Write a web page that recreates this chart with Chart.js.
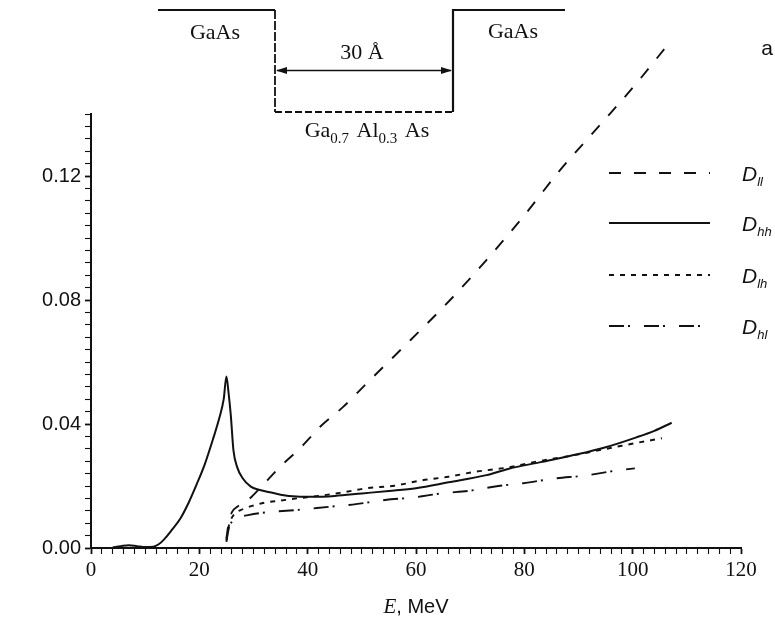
<!DOCTYPE html>
<html>
<head>
<meta charset="utf-8">
<script src="https://cdn.jsdelivr.net/npm/chart.js@4/dist/chart.umd.min.js"></script>
<style>
  body { margin: 0; background: #fff; }
  #wrap { width: 775px; height: 625px; position: relative; }
</style>
</head>
<body>
<div id="wrap"><canvas id="chart"></canvas></div>
<script>
// energy E (MeV) and values
const eHH = [4, 5.5, 7, 8.5, 10, 11.5, 12.5, 13.5, 15, 16.5, 18, 19.5, 21, 22.5, 23.7, 24.5, 25, 25.4, 25.8, 26.3, 27, 28, 29.5, 31, 33, 35, 38, 41, 45, 50, 55, 60, 66, 73, 77, 83, 90, 95, 100.7, 104, 107.2];
const dHH = [0.0002, 0.0006, 0.0009, 0.0006, 0.0003, 0.0004, 0.0012, 0.0028, 0.006, 0.0095, 0.0145, 0.0205, 0.027, 0.035, 0.042, 0.048, 0.0553, 0.050, 0.043, 0.0315, 0.026, 0.0225, 0.0198, 0.0188, 0.018, 0.0172, 0.0166, 0.0165, 0.0168, 0.0176, 0.0184, 0.0193, 0.0212, 0.0235, 0.0255, 0.0277, 0.0303, 0.0325, 0.0357, 0.0378, 0.0404];

const eLL = [25, 25.4, 26, 27, 29, 31.2, 34.9, 38.6, 42.3, 46.6, 51, 59, 66.3, 73, 79.8, 86.6, 94, 100.7, 107.2];
const dLL = [0.003, 0.008, 0.0115, 0.0133, 0.0155, 0.0193, 0.0262, 0.0322, 0.0391, 0.0456, 0.0533, 0.0671, 0.080, 0.0929, 0.1069, 0.1219, 0.1365, 0.1499, 0.1639];

const eLH = [25, 25.3, 25.8, 26.5, 28, 30, 32, 35, 38, 42, 46, 51, 56, 61, 66, 71, 77, 82, 90, 98, 105.4];
const dLH = [0.0025, 0.006, 0.009, 0.011, 0.0125, 0.0137, 0.0146, 0.0153, 0.016, 0.0168, 0.0178, 0.0193, 0.0201, 0.0218, 0.023, 0.0246, 0.026, 0.0278, 0.0302, 0.033, 0.0354];

const eHL = [25, 25.4, 26, 27, 29, 31, 33.6, 38.2, 44, 48.3, 54.3, 59.5, 64.7, 70, 75.2, 79.8, 86, 90.9, 96.7, 100.4];
const dHL = [0.002, 0.006, 0.0085, 0.0098, 0.0106, 0.0112, 0.0117, 0.0123, 0.0133, 0.014, 0.0155, 0.0163, 0.0176, 0.0185, 0.02, 0.0209, 0.0225, 0.0233, 0.0249, 0.0257];

const seriesNames = ['ll', 'hh', 'lh', 'hl'];

const xMajor = [0, 20, 40, 60, 80, 100, 120];
const yMajor = [0, 0.04, 0.08, 0.12];
const yTickLabels = ['0.00', '0.04', '0.08', '0.12'];
const xMinorStep = 2;
const yMinorStep = 0.004;

const INK = '#111';
const SERIF = '"Liberation Serif", "DejaVu Serif", serif';
const SANS = '"Liberation Sans", Arial, sans-serif';

function pts(xs, ys) {
    return xs.map((x, i) => ({ x: x, y: ys[i] }));
}

function line(name, xs, ys, dash, width) {
    return {
        label: 'D_' + name,
        data: pts(xs, ys),
        showLine: true,
        borderColor: INK,
        borderWidth: width,
        borderDash: dash,
        pointRadius: 0,
        cubicInterpolationMode: 'monotone',
        clip: false
    };
}

// well sketch, legend and captions
const extras = {
    id: 'extras',
    afterDraw(chart) {
        const ctx = chart.ctx;
        ctx.save();
        ctx.strokeStyle = INK;
        ctx.fillStyle = INK;

        // quantum well profile
        ctx.lineWidth = 2.2;
        ctx.setLineDash([]);
        ctx.beginPath();
        ctx.moveTo(158, 10); ctx.lineTo(275, 10);
        ctx.moveTo(453, 112); ctx.lineTo(453, 10); ctx.lineTo(565, 10);
        ctx.stroke();
        ctx.lineWidth = 1.8;
        ctx.setLineDash([9, 2]);
        ctx.beginPath();
        ctx.moveTo(275, 10); ctx.lineTo(275, 112);
        ctx.stroke();
        ctx.setLineDash([7, 3]);
        ctx.beginPath();
        ctx.moveTo(275, 112); ctx.lineTo(453, 112);
        ctx.stroke();

        // width arrow
        ctx.setLineDash([]);
        ctx.lineWidth = 1.6;
        ctx.beginPath();
        ctx.moveTo(277, 70.5); ctx.lineTo(451, 70.5);
        ctx.stroke();
        ctx.beginPath();
        ctx.moveTo(276, 70.5); ctx.lineTo(287, 67); ctx.lineTo(287, 74); ctx.closePath();
        ctx.moveTo(452, 70.5); ctx.lineTo(441, 67); ctx.lineTo(441, 74); ctx.closePath();
        ctx.fill();

        ctx.textBaseline = 'alphabetic';
        ctx.textAlign = 'center';
        ctx.font = '22px ' + SERIF;
        ctx.fillText('GaAs', 215, 39);
        ctx.fillText('GaAs', 513, 38);
        ctx.fillText('30 Å', 362, 59);

        // Ga0.7 Al0.3 As
        const parts = [['Ga', 0], ['0.7', 1], [' Al', 0], ['0.3', 1], [' As', 0]];
        let total = 0;
        parts.forEach(p => {
            ctx.font = (p[1] ? '15px ' : '22px ') + SERIF;
            total += ctx.measureText(p[0]).width;
        });
        let x = 365 - total / 2;
        ctx.textAlign = 'left';
        parts.forEach(p => {
            ctx.font = (p[1] ? '15px ' : '22px ') + SERIF;
            ctx.fillText(p[0], x, p[1] ? 143 : 137);
            x += ctx.measureText(p[0]).width + (p[1] ? 2 : 0);
        });

        ctx.font = '21px ' + SANS;
        ctx.textAlign = 'center';
        ctx.fillText('a', 767, 55);

        // axis title: E, MeV
        ctx.textAlign = 'left';
        ctx.font = 'italic 21px ' + SERIF;
        const wE = ctx.measureText('E').width;
        ctx.font = '20px ' + SANS;
        const wRest = ctx.measureText(', MeV').width;
        const x0 = 416 - (wE + wRest) / 2;
        ctx.font = 'italic 21px ' + SERIF;
        ctx.fillText('E', x0, 613);
        ctx.font = '20px ' + SANS;
        ctx.fillText(', MeV', x0 + wE, 613);

        // legend
        const rows = [173, 223, 275, 326];
        chart.data.datasets.forEach((ds, i) => {
            const y = rows[i];
            ctx.lineWidth = 2;
            ctx.setLineDash(ds.borderDash || []);
            ctx.beginPath();
            ctx.moveTo(609, y); ctx.lineTo(710, y);
            ctx.stroke();
            ctx.setLineDash([]);
            ctx.font = 'italic 21px ' + SANS;
            ctx.fillText('D', 742, y + 8);
            const wD = ctx.measureText('D').width;
            ctx.font = 'italic 13px ' + SANS;
            ctx.fillText(seriesNames[i], 742 + wD, y + 13);
        });
        ctx.restore();
    }
};

function isMajor(v, list) {
    return list.findIndex(m => Math.abs(v - m) < 1e-9);
}

new Chart(document.getElementById('chart'), {
    type: 'scatter',
    data: {
        datasets: [
            line('ll', eLL, dLL, [12, 13], 1.9),
            line('hh', eHH, dHH, [], 2),
            line('lh', eLH, dLH, [5, 6], 1.9),
            line('hl', eHL, dHL, [15, 4, 2, 14], 1.9)
        ]
    },
    options: {
        responsive: true,
        maintainAspectRatio: false,
        animation: false,
        layout: { padding: { top: 114, right: 34, left: 0, bottom: 0 } },
        plugins: { legend: { display: false }, tooltip: { enabled: false } },
        scales: {
            x: {
                type: 'linear',
                min: 0,
                max: 120,
                afterFit(scale) { scale.height = 77; },
                afterBuildTicks(scale) {
                    const t = [];
                    for (let v = 0; v <= 120; v += xMinorStep) t.push({ value: v });
                    scale.ticks = t;
                },
                grid: {
                    drawOnChartArea: false,
                    tickLength: 6,
                    tickColor: INK,
                    tickWidth: c => (isMajor(c.tick.value, xMajor) >= 0 ? 1.8 : 1.1)
                },
                border: { display: true, color: INK, width: 2 },
                ticks: {
                    autoSkip: false,
                    maxRotation: 0,
                    padding: 4,
                    color: INK,
                    font: { family: SERIF, size: 21 },
                    callback: v => (isMajor(v, xMajor) >= 0 ? String(v) : '')
                }
            },
            y: {
                type: 'linear',
                min: 0,
                max: 0.14,
                afterFit(scale) { scale.width = 91; },
                afterBuildTicks(scale) {
                    const t = [];
                    for (let i = 0; i * yMinorStep <= 0.14 + 1e-9; i++) {
                        t.push({ value: Math.round(i * yMinorStep * 1e6) / 1e6 });
                    }
                    scale.ticks = t;
                },
                grid: {
                    drawOnChartArea: false,
                    tickLength: 6,
                    tickColor: INK,
                    tickWidth: c => (isMajor(c.tick.value, yMajor) >= 0 ? 1.8 : 1.1)
                },
                border: { display: true, color: INK, width: 2 },
                ticks: {
                    autoSkip: false,
                    padding: 4,
                    color: INK,
                    font: { family: SANS, size: 20 },
                    callback: v => {
                        const k = isMajor(v, yMajor);
                        return k >= 0 ? yTickLabels[k] : '';
                    }
                }
            }
        }
    },
    plugins: [extras]
});
</script>
</body>
</html>
